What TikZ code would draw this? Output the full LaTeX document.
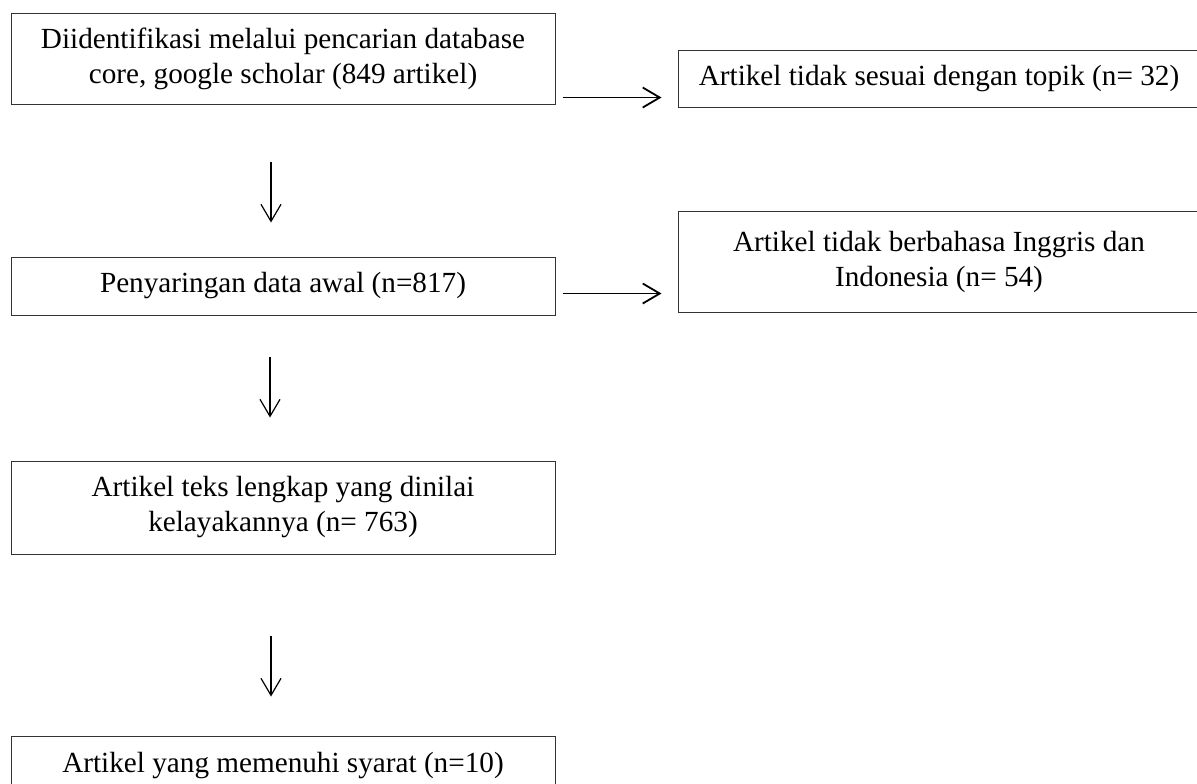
\documentclass[tikz,border=0pt]{standalone}
\usepackage{fontspec}
\setmainfont{Liberation Serif}
\usetikzlibrary{arrows.meta}
\tikzset{
    box/.style={draw=black!80, line width=0.5pt, rectangle, inner sep=0pt, align=center,
        font=\fontsize{14.6}{17.5}\selectfont},
    arr/.style={-{Straight Barb[length=8.5pt,width=10pt]}, line width=0.9pt},
    darr/.style={-{Straight Barb[length=8.5pt,width=10pt]}, line width=0.6pt}
}
\begin{document}
\begin{tikzpicture}[x=0.5pt,y=-0.5pt]
            \useasboundingbox (0,0) rectangle (1197,783);
            \clip (0,0) rectangle (1197,783);
            \node [box, minimum width=272pt, minimum height=45.5pt] (id) at (283,58.5)
                {Diidentifikasi melalui pencarian database\\core, google scholar (849 artikel)};
            \node [box, minimum width=272pt, minimum height=29pt] (screen) at (283,286)
                {Penyaringan data awal (n=817)};
            \node [box, minimum width=272pt, minimum height=46.5pt] (full) at (283,507.5)
                {Artikel teks lengkap yang dinilai\\kelayakannya (n= 763)};
            \node [box, minimum width=272pt, minimum height=29pt] (incl) at (283,765)
                {Artikel yang memenuhi syarat (n=10)};
            \node [box, minimum width=261pt, minimum height=28.5pt] (excl1) at (939,78.5)
                {Artikel tidak sesuai dengan topik (n= 32)};
            \node [box, minimum width=261pt, minimum height=50.5pt] (excl2) at (939,261.5)
                {Artikel tidak berbahasa Inggris dan\\Indonesia (n= 54)};
            \draw [darr, shorten <=28.5pt, shorten >=17pt] ([xshift=-6pt]id.south) -- ([xshift=-6pt]screen.north);
            \draw [darr, shorten <=20.5pt, shorten >=21.5pt] ([xshift=-6.5pt]screen.south) -- ([xshift=-6.5pt]full.north);
            \draw [darr, shorten <=40.5pt, shorten >=19.5pt] ([xshift=-6pt]full.south) -- ([xshift=-6pt]incl.north);
            \draw [arr] ([shift={(7,-7)}]id.south east) -- ([shift={(-16,-10)}]excl1.south west);
            \draw [arr] ([shift={(7,-22)}]screen.south east) -- ([shift={(-16,-19)}]excl2.south west);
        \end{tikzpicture}
\end{document}
